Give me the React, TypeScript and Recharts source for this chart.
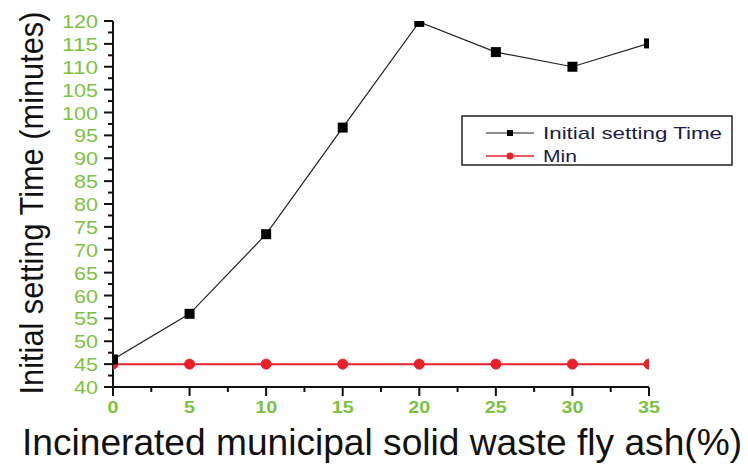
import { LineChart, Line, XAxis, YAxis, Legend, Label } from "recharts";

const ASH_PERCENT = [0, 5, 10, 15, 20, 25, 30, 35];
const SETTING_TIME = [46, 56, 73.4, 96.7, 119.8, 113.2, 110, 115.1];
const MIN_TIME = [45, 45, 45, 45, 45, 45, 45, 45];
const Y_TICKS = [40, 42.5, 45, 47.5, 50, 52.5, 55, 57.5, 60, 62.5, 65, 67.5, 70, 72.5, 75, 77.5, 80, 82.5, 85, 87.5, 90, 92.5, 95, 97.5, 100, 102.5, 105, 107.5, 110, 112.5, 115, 117.5, 120];
const X_TICKS = [0, 2.5, 5, 7.5, 10, 12.5, 15, 17.5, 20, 22.5, 25, 27.5, 30, 32.5, 35];

const data = ASH_PERCENT.map((x, i) => ({
  ash: x,
  time: SETTING_TIME[i],
  min: MIN_TIME[i],
}));

const TICK_GREEN = "#7cc242";
const FONT = "Liberation Sans, Arial, sans-serif";

function YTick({ x, y, payload }: any) {
  const major = payload.value % 5 === 0;
  const label = String(payload.value);
  return (
    <g>
      <line x1={x} x2={x - (major ? 9 : 5)} y1={y} y2={y} stroke="#111" strokeWidth={2} />
      {major && (
        <text x={x - 15} y={y} dy={7} textAnchor="end" fill={TICK_GREEN} fontSize={19} fontFamily={FONT} textLength={label.length * 12} lengthAdjust="spacingAndGlyphs">
          {label}
        </text>
      )}
    </g>
  );
}

function XTick({ x, y, payload }: any) {
  const major = payload.value % 5 === 0;
  const label = String(payload.value);
  return (
    <g>
      <line x1={x} x2={x} y1={y} y2={y + (major ? 9 : 5)} stroke="#111" strokeWidth={2} />
      {major && (
        <text x={x} y={y + 26} textAnchor="middle" fill={TICK_GREEN} fontSize={17} fontWeight="bold" fontFamily={FONT} textLength={label.length * 11} lengthAdjust="spacingAndGlyphs">
          {label}
        </text>
      )}
    </g>
  );
}

function SquareDot({ cx, cy, index }: any) {
  return <rect key={`sq-${index}`} x={cx - 5} y={cy - 5} width={10} height={10} fill="#000" />;
}

function LegendBox() {
  return (
    <svg width={272} height={52} style={{ position: "absolute", left: 461, top: 115 }}>
      <rect x={1} y={1} width={270} height={49} fill="#fff" stroke="#222" strokeWidth={1.5} />
      <line x1={25} x2={73} y1={18} y2={18} stroke="#222" strokeWidth={1.2} />
      <rect x={46} y={15} width={6} height={6} fill="#000" />
      <text x={82} y={24} fontSize={17} fill="#1c1c44" fontFamily={FONT} textLength={179} lengthAdjust="spacingAndGlyphs">
        Initial setting Time
      </text>
      <line x1={25} x2={73} y1={41} y2={41} stroke="#e8202a" strokeWidth={1.5} />
      <circle cx={49} cy={41} r={3.5} fill="#e8202a" />
      <text x={82} y={47} fontSize={17} fill="#1c1c44" fontFamily={FONT} textLength={34} lengthAdjust="spacingAndGlyphs">
        Min
      </text>
    </svg>
  );
}

export default function App() {
  return (
    <div style={{ position: "absolute", left: 0, top: 0, width: 748, height: 464, background: "#fff" }}>
      <LineChart width={748} height={464} data={data} margin={{ top: 21, right: 99, bottom: 0, left: 0 }}>
        <XAxis
          dataKey="ash"
          type="number"
          domain={[0, 35]}
          ticks={X_TICKS}
          interval={0}
          allowDataOverflow
          height={77}
          tickSize={0}
          tickMargin={0}
          tick={<XTick />}
          axisLine={{ stroke: "#111", strokeWidth: 2 }}
        >
          <Label
            content={() => (
              <text x={382} y={455} textAnchor="middle" fontSize={36} fill="#111" fontFamily={FONT} textLength={720} lengthAdjust="spacingAndGlyphs">
                Incinerated municipal solid waste fly ash(%)
              </text>
            )}
          />
        </XAxis>
        <YAxis
          type="number"
          domain={[40, 120]}
          ticks={Y_TICKS}
          interval={0}
          allowDataOverflow
          width={113}
          tickSize={0}
          tickMargin={0}
          tick={<YTick />}
          axisLine={{ stroke: "#111", strokeWidth: 2 }}
        >
          <Label
            content={() => (
              <text x={0} y={0} transform="translate(43, 203) rotate(-90) scale(1, 1.2)" textAnchor="middle" fontSize={28} fill="#111" fontFamily={FONT} textLength={383} lengthAdjust="spacingAndGlyphs">
                Initial setting Time (minutes)
              </text>
            )}
          />
        </YAxis>
        <Legend content={() => <LegendBox />} wrapperStyle={{ position: "absolute", left: 0, top: 0, width: 0, height: 0 }} />
        <Line
          dataKey="min"
          name="Min"
          stroke="#e8202a"
          strokeWidth={2}
          dot={{ r: 5, fill: "#e8202a", stroke: "#e8202a", strokeWidth: 1 }}
          isAnimationActive={false}
        />
        <Line
          dataKey="time"
          name="Initial setting Time"
          type="linear"
          stroke="#222"
          strokeWidth={1.2}
          dot={<SquareDot />}
          isAnimationActive={false}
        />
      </LineChart>
    </div>
  );
}
